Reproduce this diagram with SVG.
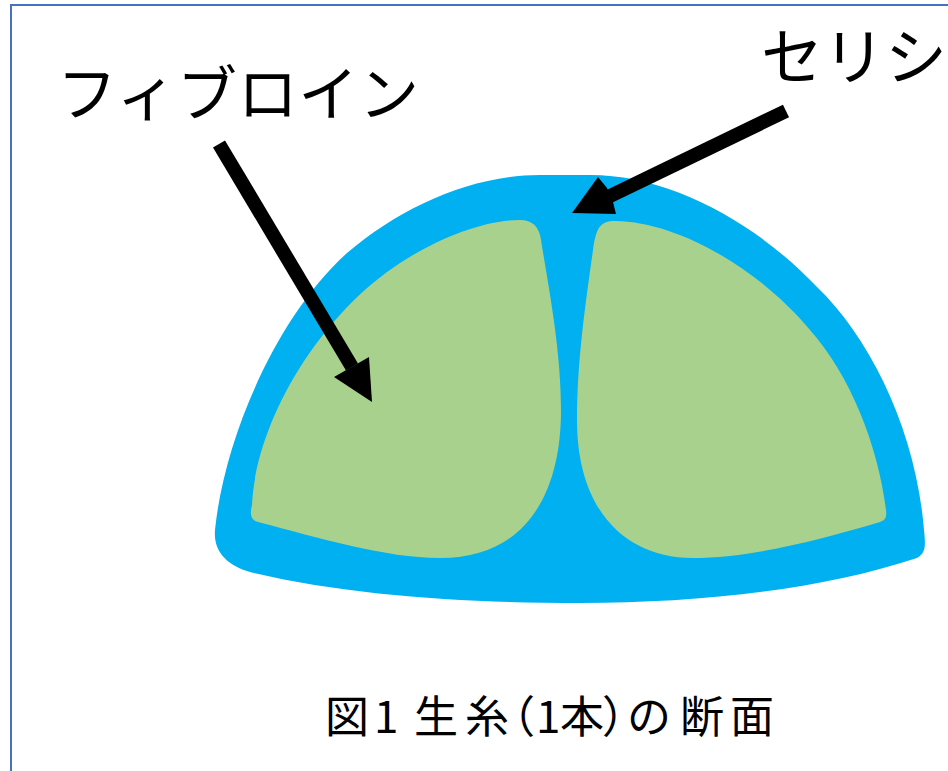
<svg xmlns="http://www.w3.org/2000/svg" width="948" height="771" viewBox="0 0 948 771">
  <style>
    text { font-family: "Noto Sans CJK JP", "Liberation Sans", sans-serif; fill: #000; }
    .label { font-size: 60px; }
    .caption { font-size: 44px; }
    .lead { stroke: #000; stroke-width: 14; fill: none; }
    .head { fill: #000; }
  </style>
  <rect x="0" y="0" width="948" height="771" fill="#fff"/>
  <path d="M11 771V5H948" fill="none" stroke="#4472C4" stroke-width="2"/>

  <g id="sericin">
    <path fill="#00B0F0" d="M215 530C224 440 275 318 347 253C400 208 470 175 540 175L590 175C670 175 755 222 817 287C870 338 916 430 924 530C926 548 925 553 917 558C820 590 700 603 580 603C470 603 350 596 250 572C228 566 213 552 215 530Z"/>
  </g>
  <g id="fibroin-left">
    <path fill="#A9D18E" d="M252 505C256 420 320 315 400 263C440 237 485 220 520 220C532 220 539 226 541 240C549 290 561 350 561 410C561 495 525 558 440 558C385 558 320 538 258 522C250 520 250 513 252 505Z"/>
  </g>
  <g id="fibroin-right">
    <path fill="#A9D18E" d="M593 250C596 228 600 221 615 221C680 222 760 270 810 330C850 375 878 445 886 510C887 518 885 520 880 522C820 540 750 558 693 558C625 558 577 510 577 420C577 360 586 300 593 250Z"/>
  </g>

  <g id="connectors">
    <path class="lead" d="M219 144L352 367"/>
    <polygon class="head" points="372,402 334,377 369,357"/>
    <path class="lead" d="M786 111L608 197"/>
    <polygon class="head" points="572,213 598,177 607,188 613,202 616,214"/>
  </g>

  <g id="labels">
    <text class="label" x="57" y="116" textLength="362">フィブロイン</text>
    <text class="label" x="761" y="80" style="font-size:62px">セリシ</text>
    <text class="caption" y="733" x="325 374 400 414 465 491 536 560 602 627 680 730">図1 生糸（1本）の断面</text>
  </g>
</svg>
